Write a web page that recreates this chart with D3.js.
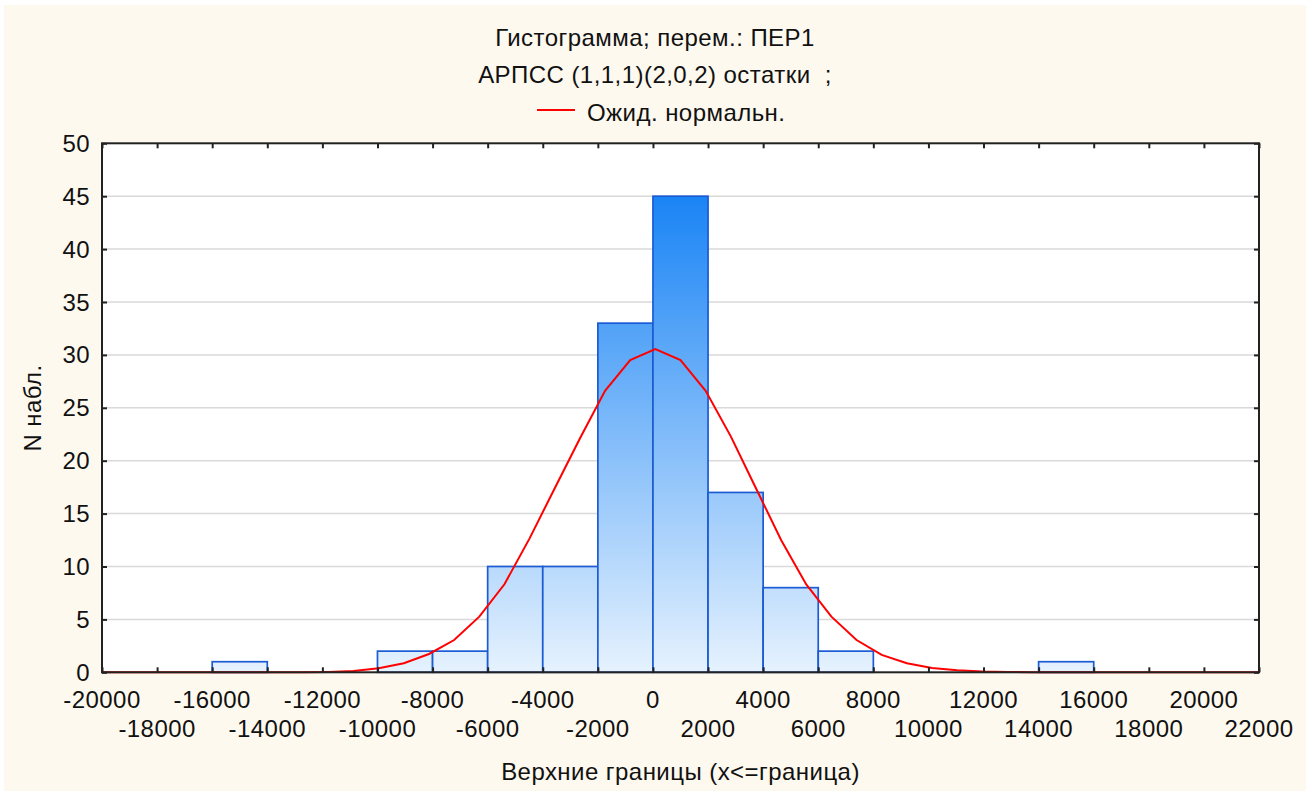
<!DOCTYPE html>
<html>
<head>
<meta charset="utf-8">
<script src="https://cdn.jsdelivr.net/npm/d3@7"></script>
<style>
  html, body { margin: 0; padding: 0; background: #ffffff; }
  svg { display: block; }
  text { font-family: "Liberation Sans", Arial, sans-serif; fill: #111; letter-spacing: 0.45px; }
</style>
</head>
<body>
<svg id="chart" width="1316" height="791"></svg>
<script>
// Histogram bins (lower / upper boundary) and counts
const binLower = [-16000, -14000, -12000, -10000, -8000, -6000, -4000, -2000, 0, 2000, 4000, 6000, 8000, 10000, 12000, 14000];
const binUpper = [-14000, -12000, -10000, -8000, -6000, -4000, -2000, 0, 2000, 4000, 6000, 8000, 10000, 12000, 14000, 16000];
const binCount = [1, 0, 0, 2, 2, 10, 10, 33, 45, 17, 8, 2, 0, 0, 0, 1];

// Expected normal curve, sampled across the axis range
const normalX = [-20000, -19087, -18174, -17261, -16348, -15435, -14522, -13609, -12696, -11783,
                 -10870, -9957, -9043, -8130, -7217, -6304, -5391, -4478, -3565, -2652,
                 -1739, -826, 87, 1000, 1913, 2826, 3739, 4652, 5565, 6478,
                 7391, 8304, 9217, 10130, 11043, 11957, 12870, 13783, 14696, 15609,
                 16522, 17435, 18348, 19261, 20174, 21087, 22000];
const normalY = [0, 0, 0, 0, 0, 0, 0, 0, 0.01, 0.04,
                 0.12, 0.38, 0.85, 1.73, 3.05, 5.26, 8.32, 12.66, 17.4, 22.1,
                 26.6, 29.5, 30.56, 29.5, 26.6, 22.3, 17.4, 12.5, 8.3, 5.26,
                 3.05, 1.65, 0.85, 0.4, 0.2, 0.08, 0.03, 0.01, 0, 0,
                 0, 0, 0, 0, 0, 0, 0];

// Axis ticks
const xTicksAll   = [-20000, -18000, -16000, -14000, -12000, -10000, -8000, -6000, -4000, -2000, 0,
                     2000, 4000, 6000, 8000, 10000, 12000, 14000, 16000, 18000, 20000, 22000];
const xTicksUpper = [-20000, -16000, -12000, -8000, -4000, 0, 4000, 8000, 12000, 16000, 20000];
const xTicksLower = [-18000, -14000, -10000, -6000, -2000, 2000, 6000, 10000, 14000, 18000, 22000];
const yTicks      = [0, 5, 10, 15, 20, 25, 30, 35, 40, 45, 50];

// Texts
const titleLines = ["Гистограмма; перем.: ПЕР1", "АРПСС (1,1,1)(2,0,2) остатки  ;"];
const legendLabel = "Ожид. нормальн.";
const xTitle = "Верхние границы (x<=граница)";
const yTitle = "N набл.";

const svg = d3.select("#chart");
const plot = { left: 102, right: 1259, top: 143.3, bottom: 672.3 };

const x = d3.scaleLinear().domain([-20000, 22000]).range([plot.left, plot.right]);
const y = d3.scaleLinear().domain([0, 50]).range([plot.bottom, plot.top]);

// Panel background
svg.append("rect")
  .attr("x", 4).attr("y", 5).attr("width", 1302).attr("height", 786)
  .attr("fill", "#fef9ef");

svg.append("rect")
  .attr("x", plot.left).attr("y", plot.top)
  .attr("width", plot.right - plot.left).attr("height", plot.bottom - plot.top)
  .attr("fill", "#ffffff");

// Bar gradient, fixed to the plot's vertical scale
const defs = svg.append("defs");
const grad = defs.append("linearGradient")
  .attr("id", "barFill")
  .attr("gradientUnits", "userSpaceOnUse")
  .attr("x1", 0).attr("x2", 0)
  .attr("y1", y(0)).attr("y2", y(45));
grad.append("stop").attr("offset", "0%").attr("stop-color", "#e6f2fe");
grad.append("stop").attr("offset", "100%").attr("stop-color", "#1a84f5");

// Horizontal grid
svg.append("g")
  .selectAll("line")
  .data(yTicks.filter(v => v > 0 && v < 50))
  .join("line")
  .attr("x1", plot.left).attr("x2", plot.right)
  .attr("y1", d => y(d)).attr("y2", d => y(d))
  .attr("stroke", "#d9d9d9").attr("stroke-width", 1.5);

// Bars
const bins = binCount.map((c, i) => ({ lo: binLower[i], hi: binUpper[i], n: c }));
svg.append("g")
  .selectAll("rect")
  .data(bins)
  .join("rect")
  .attr("x", d => x(d.lo))
  .attr("width", d => x(d.hi) - x(d.lo))
  .attr("y", d => y(d.n))
  .attr("height", d => y(0) - y(d.n))
  .attr("fill", "url(#barFill)")
  .attr("stroke", "#1b5bd4")
  .attr("stroke-width", 1.7);

// Normal curve
const line = d3.line().x(d => x(d[0])).y(d => y(d[1]));
svg.append("path")
  .datum(normalX.map((v, i) => [v, normalY[i]]))
  .attr("d", line)
  .attr("fill", "none")
  .attr("stroke", "#ff0000")
  .attr("stroke-width", 2);

// Frame axes with inward ticks
const tickLen = 5;
svg.append("g")
  .attr("transform", `translate(0,${plot.bottom})`)
  .call(d3.axisBottom(x).tickValues(xTicksAll).tickSize(-tickLen).tickFormat(""))
  .call(g => g.select(".domain").remove());
svg.append("g")
  .attr("transform", `translate(0,${plot.top})`)
  .call(d3.axisTop(x).tickValues(xTicksAll).tickSize(-tickLen).tickFormat(""))
  .call(g => g.select(".domain").remove());
svg.append("g")
  .attr("transform", `translate(${plot.left},0)`)
  .call(d3.axisLeft(y).tickValues(yTicks).tickSize(-tickLen).tickFormat(""))
  .call(g => g.select(".domain").remove());
svg.append("g")
  .attr("transform", `translate(${plot.right},0)`)
  .call(d3.axisRight(y).tickValues(yTicks).tickSize(-tickLen).tickFormat(""))
  .call(g => g.select(".domain").remove());
svg.selectAll(".tick line").attr("stroke", "#222").attr("stroke-width", 2);

svg.append("rect")
  .attr("x", plot.left).attr("y", plot.top)
  .attr("width", plot.right - plot.left).attr("height", plot.bottom - plot.top)
  .attr("fill", "none").attr("stroke", "#222").attr("stroke-width", 2);

// Tick labels
const labelSize = 24;
svg.append("g").selectAll("text")
  .data(xTicksUpper).join("text")
  .attr("x", d => x(d)).attr("y", 708)
  .attr("text-anchor", "middle")
  .attr("font-size", labelSize)
  .text(d => String(d));
svg.append("g").selectAll("text")
  .data(xTicksLower).join("text")
  .attr("x", d => x(d)).attr("y", 737)
  .attr("text-anchor", "middle")
  .attr("font-size", labelSize)
  .text(d => String(d));
svg.append("g").selectAll("text")
  .data(yTicks).join("text")
  .attr("x", 90).attr("y", d => y(d) + 8.5)
  .attr("text-anchor", "end")
  .attr("font-size", labelSize)
  .text(d => String(d));

// Titles
svg.append("g").selectAll("text")
  .data(titleLines).join("text")
  .attr("x", 655).attr("y", (d, i) => 46 + i * 37.3)
  .attr("text-anchor", "middle")
  .attr("font-size", labelSize)
  .attr("xml:space", "preserve")
  .style("white-space", "pre")
  .text(d => d);

// Legend
svg.append("line")
  .attr("x1", 537).attr("x2", 575).attr("y1", 110).attr("y2", 110)
  .attr("stroke", "#ff0000").attr("stroke-width", 2);
svg.append("text")
  .attr("x", 587).attr("y", 120.7)
  .attr("font-size", labelSize)
  .text(legendLabel);

// Axis titles
svg.append("text")
  .attr("x", (plot.left + plot.right) / 2).attr("y", 780)
  .attr("text-anchor", "middle")
  .attr("font-size", labelSize)
  .text(xTitle);
svg.append("text")
  .attr("transform", `translate(41,408) rotate(-90)`)
  .attr("text-anchor", "middle")
  .attr("font-size", labelSize)
  .text(yTitle);
</script>
</body>
</html>
